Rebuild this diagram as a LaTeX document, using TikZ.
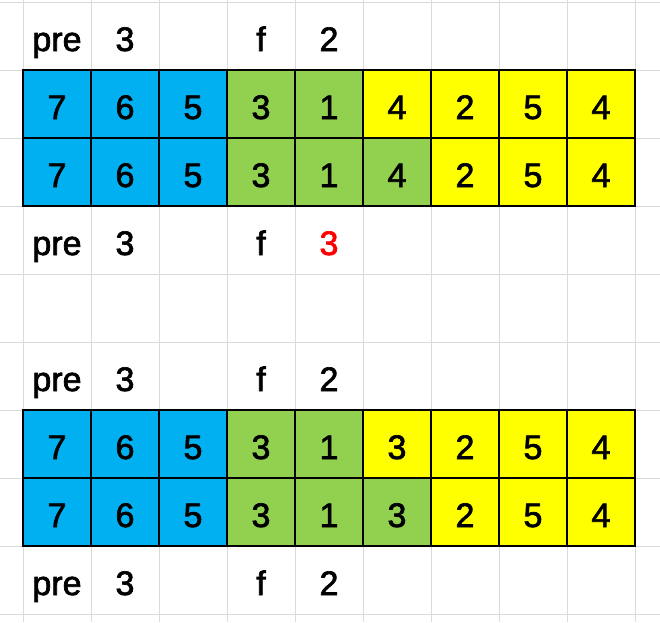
\documentclass[tikz,border=0pt]{standalone}
\usepackage{fontspec}
\setmainfont{Liberation Sans}
\newfontfamily\cellfont[FakeBold=2]{Liberation Sans}
\definecolor{cblue}{HTML}{00B0F0}
\definecolor{cgreen}{HTML}{92D050}
\definecolor{cyellow}{HTML}{FFFF00}
\definecolor{cgrid}{HTML}{DADADA}
\definecolor{cred}{HTML}{FF0000}
\begin{document}
\begin{tikzpicture}[x=1pt,y=-1pt,
  txt/.style={inner sep=0pt,outer sep=0pt,font=\cellfont\fontsize{34}{34}\selectfont,text height=30pt,text depth=0pt},
  cell/.style={txt,draw=black,line width=1.3pt,minimum width=68pt,minimum height=68pt},
  lbl/.style={txt,minimum width=68pt,minimum height=68pt},
  grid line/.style={draw=cgrid,line width=1pt},
  frame/.style={draw=black,line width=2.4pt}]
\useasboundingbox (0,0) rectangle (660,622);
\fill[white] (0,0) rectangle (660,622);
% background spreadsheet grid
\foreach \k in {0,...,9} {
  \draw[grid line] (0,2+68*\k) -- (660,2+68*\k);
  \draw[grid line] (23+68*\k,0) -- (23+68*\k,622);
}
% top table
\foreach \v/\c [count=\i from 0] in {7/cblue,6/cblue,5/cblue,3/cgreen,1/cgreen,4/cyellow,2/cyellow,5/cyellow,4/cyellow}
  \node[cell,fill=\c] (a\i) at (57+68*\i,104) {\v};
\foreach \v/\c [count=\i from 0] in {7/cblue,6/cblue,5/cblue,3/cgreen,1/cgreen,4/cgreen,2/cyellow,5/cyellow,4/cyellow}
  \node[cell,fill=\c] (b\i) at (57+68*\i,172) {\v};
\draw[frame] (a0.north west) rectangle (b8.south east);
% bottom table
\foreach \v/\c [count=\i from 0] in {7/cblue,6/cblue,5/cblue,3/cgreen,1/cgreen,3/cyellow,2/cyellow,5/cyellow,4/cyellow}
  \node[cell,fill=\c] (c\i) at (57+68*\i,444) {\v};
\foreach \v/\c [count=\i from 0] in {7/cblue,6/cblue,5/cblue,3/cgreen,1/cgreen,3/cgreen,2/cyellow,5/cyellow,4/cyellow}
  \node[cell,fill=\c] (d\i) at (57+68*\i,512) {\v};
\draw[frame] (c0.north west) rectangle (d8.south east);
% labels
\node[lbl] (p1) at (57,36) {pre};
\node[lbl] (p1v) at (125,36) {3};
\node[lbl] (f1) at (261,36) {f};
\node[lbl] (f1v) at (329,36) {2};
\node[lbl] (p2) at (57,240) {pre};
\node[lbl] (p2v) at (125,240) {3};
\node[lbl] (f2) at (261,240) {f};
\node[lbl,text=cred] (f2v) at (329,240) {3};
\node[lbl] (p3) at (57,376) {pre};
\node[lbl] (p3v) at (125,376) {3};
\node[lbl] (f3) at (261,376) {f};
\node[lbl] (f3v) at (329,376) {2};
\node[lbl] (p4) at (57,580) {pre};
\node[lbl] (p4v) at (125,580) {3};
\node[lbl] (f4) at (261,580) {f};
\node[lbl] (f4v) at (329,580) {2};
\end{tikzpicture}
\end{document}
